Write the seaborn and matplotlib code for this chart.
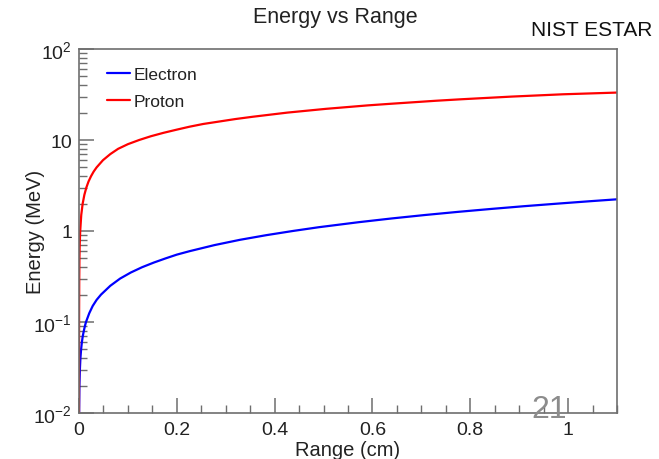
import numpy as np
import pandas as pd
import matplotlib
matplotlib.use("Agg")
import matplotlib.pyplot as plt
from matplotlib.ticker import FixedLocator, FixedFormatter, MultipleLocator, FuncFormatter
import seaborn as sns

# Electron (NIST ESTAR-like), range in cm vs kinetic energy in MeV
electron_range = [0.00025, 0.00086, 0.0018, 0.0029, 0.0043, 0.0059, 0.0077, 0.0099,
                  0.012, 0.0143, 0.021, 0.028, 0.036, 0.045, 0.064, 0.084, 0.106,
                  0.129, 0.153, 0.177, 0.200, 0.226, 0.277, 0.329, 0.383, 0.437,
                  0.49, 0.572, 0.64, 0.708, 0.776, 0.844, 0.911, 0.979, 1.045, 1.1]
electron_energy = [0.01, 0.02, 0.03, 0.04, 0.05, 0.06, 0.07, 0.08,
                   0.09, 0.1, 0.125, 0.15, 0.175, 0.2, 0.25, 0.3, 0.35,
                   0.4, 0.45, 0.5, 0.55, 0.6, 0.7, 0.8, 0.9, 1.0,
                   1.1, 1.25, 1.375, 1.5, 1.625, 1.75, 1.875, 2.0, 2.125, 2.23]

# Proton
proton_range = [0.00001, 0.00014, 0.0005, 0.00089, 0.0014, 0.00246, 0.0046, 0.0075,
                0.011, 0.015, 0.0195, 0.0246, 0.030, 0.036, 0.049, 0.064, 0.080,
                0.100, 0.123, 0.147, 0.173, 0.200, 0.226, 0.254, 0.32, 0.355,
                0.426, 0.505, 0.59, 0.637, 0.73, 0.78, 0.885, 0.99, 1.1]
proton_energy = [0.01, 0.1, 0.3, 0.5, 0.7, 1.0, 1.5, 2.0,
                 2.5, 3.0, 3.5, 4.0, 4.5, 5.0, 6.0, 7.0, 8.0,
                 9.0, 10.0, 11.0, 12.0, 13.0, 14.0, 15.0, 17.0, 18.0,
                 20.0, 22.0, 24.0, 25.0, 27.0, 28.0, 30.0, 31.8, 33.2]

series_names = ["Electron", "Proton"]
series_colors = ["#0000ff", "#ff0000"]

y_ticks = [1e-2, 1e-1, 1, 10, 1e2]
y_tick_labels = [r"$\mathdefault{10^{-2}}$", r"$\mathdefault{10^{-1}}$", "1", "10",
                 r"$\mathdefault{10^{2}}$"]

df = pd.concat([
    pd.DataFrame({"Range": electron_range, "Energy": electron_energy, "Particle": "Electron"}),
    pd.DataFrame({"Range": proton_range, "Energy": proton_energy, "Particle": "Proton"}),
], ignore_index=True)

sns.set_style("ticks")
plt.rcParams["font.family"] = ["Liberation Sans", "DejaVu Sans"]
plt.rcParams["mathtext.fontset"] = "custom"
plt.rcParams["mathtext.rm"] = "Liberation Sans"
plt.rcParams["mathtext.it"] = "Liberation Sans:italic"
plt.rcParams["mathtext.bf"] = "Liberation Sans:bold"

fig = plt.figure(figsize=(6.59, 4.6), dpi=100)
ax = fig.add_axes([79 / 659, 1 - 414 / 460, (617 - 79) / 659, (414 - 50) / 460])

sns.lineplot(data=df, x="Range", y="Energy", hue="Particle", hue_order=series_names,
             palette=series_colors, linewidth=1.6, ax=ax, sort=False, estimator=None)

ax.set_yscale("log")
ax.set_xlim(0, 1.1)
ax.set_ylim(1e-2, 1e2)

ax.yaxis.set_major_locator(FixedLocator(y_ticks))
ax.yaxis.set_major_formatter(FixedFormatter(y_tick_labels))
minor = [m * 10.0 ** e for e in range(-2, 2) for m in range(2, 10)]
ax.yaxis.set_minor_locator(FixedLocator(minor))
ax.yaxis.set_minor_formatter(FixedFormatter([""] * len(minor)))

ax.xaxis.set_major_locator(MultipleLocator(0.2))
ax.xaxis.set_minor_locator(MultipleLocator(0.05))
ax.xaxis.set_major_formatter(FuncFormatter(lambda v, p: "%g" % round(v, 3)))

frame_col = "#6e6e6e"
for s in ax.spines.values():
    s.set_color(frame_col)
    s.set_linewidth(1.2)

ax.tick_params(axis="both", which="both", direction="in", color=frame_col,
               labelcolor="#222222", labelsize=14)
ax.tick_params(axis="y", which="major", length=11, width=1.1, pad=5)
ax.tick_params(axis="y", which="minor", length=6, width=1.0)
ax.tick_params(axis="x", which="major", length=11, width=1.1, pad=6)
ax.tick_params(axis="x", which="minor", length=6, width=1.0)

ax.set_xlabel("Range (cm)", fontsize=14.5, color="#222222", labelpad=1)
ax.set_ylabel("Energy (MeV)", fontsize=14.5, color="#222222")
ax.yaxis.set_label_coords((45 - 79) / 538, 0.5)

leg = ax.legend(loc="upper left", bbox_to_anchor=(28 / 538, 1 - 18 / 364),
                frameon=False, fontsize=12.5, handlelength=1.3, handletextpad=0.25,
                labelspacing=0.7, borderaxespad=0, borderpad=0)
for t in leg.get_texts():
    t.set_color("#222222")

fig.text(335 / 659, 1 - 18 / 460, "Energy vs Range", ha="center", va="center",
         fontsize=15.5, color="#222222")
fig.text(592 / 659, 1 - 31 / 460, "NIST ESTAR", ha="center", va="center",
         fontsize=15, color="#111111")
fig.text(549 / 659, 1 - 410 / 460, "21", ha="center", va="center",
         fontsize=23, color="#8c8c8c")

fig.savefig("out.png", dpi=100)
